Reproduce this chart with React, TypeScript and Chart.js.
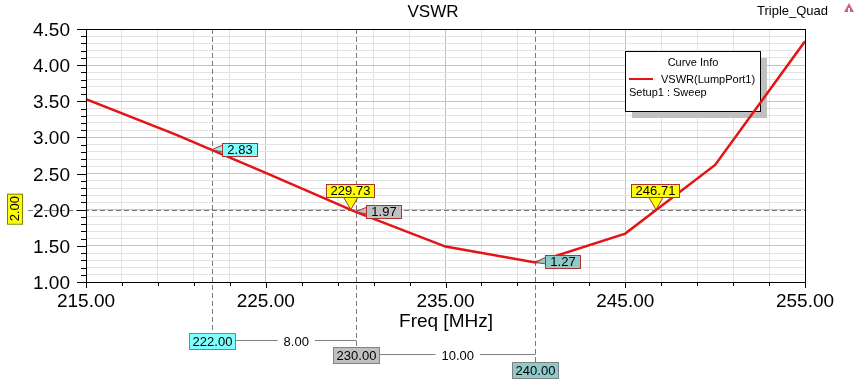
import React, { useEffect, useRef } from 'react';
import { Chart, registerables } from 'chart.js';

Chart.register(...registerables);

// ---- data ----
const freqs = [215, 220, 225, 230, 235, 240, 245, 250, 255];
const vswr = [3.53, 3.04, 2.51, 1.97, 1.49, 1.27, 1.67, 2.62, 4.33];
const xTickValues = [215, 225, 235, 245, 255];
const xTickLabels = ['215.00', '225.00', '235.00', '245.00', '255.00'];
const yTickValues = [1.0, 1.5, 2.0, 2.5, 3.0, 3.5, 4.0, 4.5];
const yTickLabels = ['1.00', '1.50', '2.00', '2.50', '3.00', '3.50', '4.00', '4.50'];
const valueMarkerFreqs = [222, 230, 240];
const valueMarkerVals = [2.83, 1.97, 1.27];
const valueMarkerLabels = ['2.83', '1.97', '1.27'];
const valueMarkerColors = ['#80ffff', '#c0c0c0', '#8fcaca'];
const crossingFreqs = [229.73, 246.71];
const crossingLabels = ['229.73', '246.71'];
const crossingLevel = 2.0;
const crossingLevelLabel = '2.00';
const deltaLabels = ['8.00', '10.00'];
const freqMarkerLabels = ['222.00', '230.00', '240.00'];

const FONT = 'Arial, "Liberation Sans", sans-serif';

const hfssPlugin = {
  id: 'hfss',
  beforeDraw(chart: any) {
    const c = chart.ctx;
    c.save();
    c.fillStyle = '#ffffff';
    c.fillRect(0, 0, chart.width, chart.height);
    c.restore();
  },
  beforeDatasetsDraw(chart: any) {
    const c = chart.ctx;
    const a = chart.chartArea;
    const xs = chart.scales.x;
    const ys = chart.scales.y;
    c.save();
    // legend shadow and box
    c.fillStyle = '#c0c0c0';
    c.fillRect(632, 58, 135, 60);
    c.fillStyle = '#ffffff';
    c.fillRect(625, 51, 135, 60);
    c.strokeStyle = '#000000';
    c.lineWidth = 1;
    c.strokeRect(625.5, 51.5, 135, 60);
    c.fillStyle = '#000';
    c.font = '11px ' + FONT;
    c.textAlign = 'center';
    c.textBaseline = 'alphabetic';
    c.fillText('Curve Info', 693, 66);
    c.textAlign = 'left';
    c.fillText('VSWR(LumpPort1)', 661, 83);
    c.fillText('Setup1 : Sweep', 629, 96);
    c.strokeStyle = 'rgb(228,20,20)';
    c.lineWidth = 2;
    c.beginPath();
    c.moveTo(629, 79);
    c.lineTo(653, 79);
    c.stroke();

    // dashed marker lines
    c.strokeStyle = '#7a7a7a';
    c.lineWidth = 1;
    c.setLineDash([5, 3]);
    const yl = Math.round(ys.getPixelForValue(crossingLevel)) + 0.5;
    c.beginPath();
    c.moveTo(28, yl);
    c.lineTo(a.right, yl);
    c.stroke();
    const bottoms = [332, 348, 363];
    valueMarkerFreqs.forEach((f, i) => {
      const x = Math.round(xs.getPixelForValue(f)) + 0.5;
      c.beginPath();
      c.moveTo(x, a.top);
      c.lineTo(x, bottoms[i]);
      c.stroke();
    });
    c.setLineDash([]);
    c.restore();
  },
  afterDatasetsDraw(chart: any) {
    const c = chart.ctx;
    const a = chart.chartArea;
    const xs = chart.scales.x;
    const ys = chart.scales.y;
    c.save();
    // border
    c.strokeStyle = '#000';
    c.lineWidth = 1;
    c.strokeRect(Math.round(a.left) + 0.5, Math.round(a.top) + 0.5, Math.round(a.right - a.left), Math.round(a.bottom - a.top));
    // y ticks
    for (let i = 10; i <= 45; i++) {
      const y = Math.round(ys.getPixelForValue(i / 10)) + 0.5;
      const len = i % 5 === 0 ? 9 : 5;
      c.beginPath();
      c.moveTo(a.left - len, y);
      c.lineTo(a.left, y);
      c.stroke();
    }
    // x ticks
    for (let v = 215; v <= 255; v += 2) {
      const x = Math.round(xs.getPixelForValue(v)) + 0.5;
      const len = (v - 215) % 10 === 0 ? 6 : 4;
      c.beginPath();
      c.moveTo(x, a.bottom);
      c.lineTo(x, a.bottom + len);
      c.stroke();
    }
    // tick labels
    c.fillStyle = '#000';
    c.font = '19px ' + FONT;
    c.textAlign = 'right';
    c.textBaseline = 'alphabetic';
    yTickValues.forEach((v, i) => {
      c.fillText(yTickLabels[i], 70, ys.getPixelForValue(v) + 7);
    });
    c.textAlign = 'center';
    xTickValues.forEach((v, i) => {
      c.fillText(xTickLabels[i], xs.getPixelForValue(v), 307);
    });
    c.fillText('Freq [MHz]', 446, 327);
    // title
    c.font = '17px ' + FONT;
    c.fillText('VSWR', 433, 17);
    c.font = '13px ' + FONT;
    c.textAlign = 'left';
    c.fillText('Triple_Quad', 757, 15);
    // logo
    c.fillStyle = '#d8607a';
    c.beginPath();
    c.moveTo(849, 3);
    c.lineTo(854, 12);
    c.lineTo(844, 12);
    c.closePath();
    c.fill();
    c.fillStyle = '#ffffff';
    c.fillRect(848, 8, 2, 4);

    c.font = '13px ' + FONT;
    c.textBaseline = 'middle';
    // value markers
    valueMarkerFreqs.forEach((f, i) => {
      const px = xs.getPixelForValue(f);
      const py = ys.getPixelForValue(valueMarkerVals[i]);
      const tw = c.measureText(valueMarkerLabels[i]).width;
      const bl = Math.round(px + 10);
      const bt = Math.round(py - 7);
      const bw = Math.round(tw + 10);
      const bh = 13;
      c.fillStyle = valueMarkerColors[i];
      c.strokeStyle = '#b03030';
      c.beginPath();
      c.moveTo(px, py);
      c.lineTo(bl + 1, bt + 2);
      c.lineTo(bl + 1, bt + 9);
      c.closePath();
      c.fill();
      c.stroke();
      c.fillRect(bl, bt, bw, bh);
      c.strokeRect(bl + 0.5, bt + 0.5, bw, bh);
      c.fillStyle = '#000';
      c.textAlign = 'center';
      c.fillText(valueMarkerLabels[i], bl + bw / 2 + 0.5, bt + bh / 2 + 1);
    });
    // crossing markers
    crossingFreqs.forEach((f, i) => {
      const px = xs.getPixelForValue(f);
      const py = ys.getPixelForValue(crossingLevel);
      const tw = c.measureText(crossingLabels[i]).width;
      const bw = Math.round(tw + 8);
      const bh = 13;
      const bl = Math.round(px - bw / 2 - 1);
      const bt = Math.round(py - 13 - bh);
      c.fillStyle = '#ffff00';
      c.strokeStyle = '#b03030';
      c.fillRect(bl, bt, bw, bh);
      c.strokeRect(bl + 0.5, bt + 0.5, bw, bh);
      c.beginPath();
      c.moveTo(px - 7, bt + bh + 0.5);
      c.lineTo(px, py);
      c.lineTo(px + 7, bt + bh + 0.5);
      c.closePath();
      c.fill();
      c.stroke();
      c.fillStyle = '#000';
      c.textAlign = 'center';
      c.fillText(crossingLabels[i], bl + bw / 2 + 0.5, bt + bh / 2 + 1);
    });
    // level label (rotated)
    {
      const py = ys.getPixelForValue(crossingLevel);
      c.fillStyle = '#ffff00';
      c.strokeStyle = '#808000';
      c.fillRect(7, py - 16, 15, 30);
      c.strokeRect(7.5, py - 15.5, 15, 30);
      c.save();
      c.translate(15, py - 1);
      c.rotate(-Math.PI / 2);
      c.fillStyle = '#000';
      c.textAlign = 'center';
      c.fillText(crossingLevelLabel, 0, 0);
      c.restore();
    }
    // bottom frequency markers and deltas
    const rowsY = [341, 355, 370];
    const boxColors = ['#80ffff', '#c0c0c0', '#8fcaca'];
    const boxRights: number[] = [];
    valueMarkerFreqs.forEach((f, i) => {
      const px = xs.getPixelForValue(f);
      const tw = c.measureText(freqMarkerLabels[i]).width;
      const bw = Math.round(tw + 6);
      const bh = 16;
      const bl = Math.round(px - bw / 2);
      const bt = Math.round(rowsY[i] - bh / 2);
      c.fillStyle = boxColors[i];
      c.strokeStyle = '#808080';
      c.fillRect(bl, bt, bw, bh);
      c.strokeRect(bl + 0.5, bt + 0.5, bw, bh);
      c.fillStyle = '#000';
      c.textAlign = 'center';
      c.fillText(freqMarkerLabels[i], bl + bw / 2 + 0.5, bt + bh / 2 + 1);
      boxRights.push(bl + bw + 1);
    });
    deltaLabels.forEach((lab, i) => {
      const y = rowsY[i] - 0.5;
      const x0 = boxRights[i];
      const x1 = Math.round(xs.getPixelForValue(valueMarkerFreqs[i + 1])) + 0.5;
      const mid = (x0 + x1) / 2;
      const tw = c.measureText(lab).width;
      c.strokeStyle = '#808080';
      c.beginPath();
      c.moveTo(x0, y);
      c.lineTo(mid - tw / 2 - 6, y);
      c.moveTo(mid + tw / 2 + 6, y);
      c.lineTo(x1, y);
      c.stroke();
      c.fillStyle = '#000';
      c.textAlign = 'center';
      c.fillText(lab, mid, rowsY[i] + 1);
    });
    c.restore();
  },
};

export default function App() {
  const ref = useRef<HTMLCanvasElement>(null);
  useEffect(() => {
    document.body.style.margin = '0';
    const chart = new Chart(ref.current as HTMLCanvasElement, {
      type: 'line',
      data: {
        datasets: [
          {
            label: 'VSWR(LumpPort1)',
            data: freqs.map((f, i) => ({ x: f, y: vswr[i] })),
            borderColor: 'rgb(228,20,20)',
            borderWidth: 2.5,
            pointRadius: 0,
            tension: 0,
            fill: false,
          },
        ],
      },
      options: {
        animation: false,
        responsive: false,
        devicePixelRatio: 1,
        layout: { padding: { top: 29, right: 62, left: 0, bottom: 0 } },
        plugins: { legend: { display: false }, tooltip: { enabled: false }, title: { display: false } },
        scales: {
          x: {
            type: 'linear',
            min: 215,
            max: 255,
            afterBuildTicks: (s: any) => {
              const t = [];
              for (let v = 215; v <= 255; v += 2) t.push({ value: v });
              s.ticks = t;
            },
            afterFit: (s: any) => {
              s.height = 99;
            },
            ticks: { display: false },
            border: { display: false },
            grid: {
              drawTicks: false,
              lineWidth: 1,
              color: (ctx: any) => ((ctx.tick && (ctx.tick.value - 215) % 10 === 0) ? '#c4c4c4' : '#e4e4e4'),
            },
          },
          y: {
            type: 'linear',
            min: 1,
            max: 4.5,
            afterBuildTicks: (s: any) => {
              const t = [];
              for (let i = 10; i <= 45; i++) t.push({ value: i / 10 });
              s.ticks = t;
            },
            afterFit: (s: any) => {
              s.width = 86;
            },
            ticks: { display: false },
            border: { display: false },
            grid: {
              drawTicks: false,
              lineWidth: 1,
              color: (ctx: any) => ((ctx.tick && Math.round(ctx.tick.value * 10) % 5 === 0) ? '#c4c4c4' : '#e4e4e4'),
            },
          },
        },
      },
      plugins: [hfssPlugin],
    });
    return () => chart.destroy();
  }, []);
  return (
    <div style={{ position: 'absolute', left: 0, top: 0, width: 867, height: 381 }}>
      <canvas ref={ref} width={867} height={381} style={{ width: 867, height: 381 }} />
    </div>
  );
}
